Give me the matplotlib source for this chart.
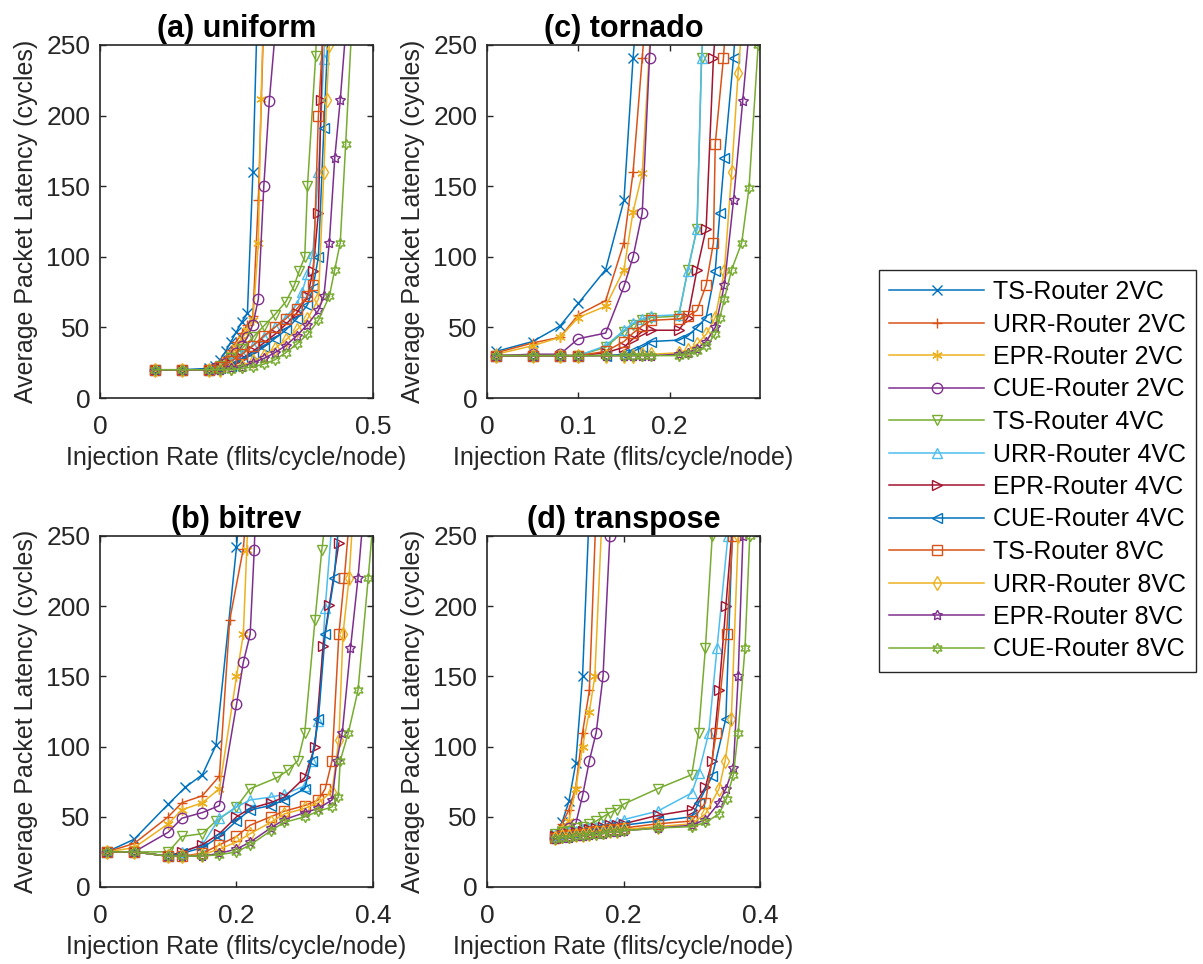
import numpy as np
import matplotlib
matplotlib.use("Agg")
from matplotlib import pyplot as plt

plt.rcParams['font.family'] = ['Liberation Sans', 'DejaVu Sans']

labels = ['TS-Router 2VC', 'URR-Router 2VC', 'EPR-Router 2VC', 'CUE-Router 2VC',
          'TS-Router 4VC', 'URR-Router 4VC', 'EPR-Router 4VC', 'CUE-Router 4VC',
          'TS-Router 8VC', 'URR-Router 8VC', 'EPR-Router 8VC', 'CUE-Router 8VC']

# ---- (a) uniform ----
uniform_x = [
    [0.10, 0.15, 0.20, 0.21, 0.22, 0.23, 0.24, 0.25, 0.26, 0.27, 0.28, 0.29],
    [0.10, 0.15, 0.20, 0.21, 0.22, 0.23, 0.24, 0.25, 0.26, 0.27, 0.28, 0.29, 0.30],
    [0.10, 0.15, 0.20, 0.21, 0.22, 0.23, 0.24, 0.25, 0.26, 0.27, 0.28, 0.29, 0.295, 0.30],
    [0.10, 0.15, 0.20, 0.21, 0.22, 0.23, 0.24, 0.25, 0.26, 0.27, 0.28, 0.29, 0.30, 0.31, 0.32],
    [0.10, 0.15, 0.20, 0.22, 0.24, 0.26, 0.28, 0.30, 0.32, 0.34, 0.355, 0.365, 0.375, 0.38, 0.395, 0.40],
    [0.10, 0.15, 0.20, 0.22, 0.24, 0.26, 0.28, 0.30, 0.32, 0.34, 0.36, 0.37, 0.38, 0.39, 0.40, 0.41, 0.415],
    [0.10, 0.15, 0.20, 0.22, 0.24, 0.26, 0.28, 0.30, 0.32, 0.34, 0.36, 0.38, 0.39, 0.40, 0.405, 0.41],
    [0.10, 0.15, 0.20, 0.22, 0.24, 0.26, 0.28, 0.30, 0.32, 0.34, 0.36, 0.38, 0.39, 0.40, 0.41, 0.42],
    [0.10, 0.15, 0.20, 0.22, 0.24, 0.26, 0.28, 0.30, 0.32, 0.34, 0.36, 0.38, 0.39, 0.40, 0.41],
    [0.10, 0.15, 0.20, 0.22, 0.24, 0.26, 0.28, 0.30, 0.32, 0.34, 0.36, 0.38, 0.40, 0.41, 0.415, 0.42, 0.43],
    [0.10, 0.15, 0.20, 0.22, 0.24, 0.26, 0.28, 0.30, 0.32, 0.34, 0.36, 0.38, 0.40, 0.41, 0.42, 0.43, 0.44, 0.45],
    [0.10, 0.15, 0.20, 0.22, 0.24, 0.26, 0.28, 0.30, 0.32, 0.34, 0.36, 0.38, 0.40, 0.42, 0.43, 0.44, 0.45, 0.46],
]
uniform_y = [
    [20, 20, 21, 23, 27, 33, 40, 47, 54, 60, 160, 300],
    [20, 20, 20, 22, 25, 29, 34, 40, 46, 52, 58, 140, 270],
    [20, 20, 20, 21, 23, 27, 31, 36, 42, 48, 55, 110, 212, 280],
    [20, 20, 20, 21, 22, 25, 28, 32, 37, 43, 52, 70, 150, 210, 255],
    [20, 20, 20, 23, 28, 35, 43, 51, 59, 68, 79, 90, 100, 150, 242, 300],
    [20, 20, 20, 22, 26, 31, 37, 43, 50, 57, 66, 75, 88, 103, 160, 240, 290],
    [20, 20, 20, 21, 24, 28, 33, 39, 45, 52, 60, 72, 90, 131, 211, 290],
    [20, 20, 20, 21, 23, 27, 31, 36, 42, 48, 56, 66, 78, 100, 191, 280],
    [20, 20, 20, 22, 26, 31, 37, 44, 50, 56, 63, 72, 80, 200, 270],
    [20, 20, 20, 20, 21, 23, 26, 30, 35, 41, 48, 56, 70, 160, 211, 250, 290],
    [20, 20, 20, 20, 21, 22, 25, 28, 32, 37, 44, 52, 62, 72, 110, 170, 211, 260],
    [20, 20, 20, 20, 20, 21, 22, 24, 27, 32, 38, 45, 55, 72, 91, 110, 180, 255],
]

# ---- (b) bitrev ----
bitrev_x = [
    [0.01, 0.05, 0.10, 0.125, 0.15, 0.17, 0.20, 0.21],
    [0.01, 0.05, 0.10, 0.12, 0.15, 0.175, 0.19, 0.21, 0.22],
    [0.01, 0.05, 0.10, 0.12, 0.15, 0.175, 0.20, 0.21, 0.215, 0.22],
    [0.01, 0.05, 0.10, 0.12, 0.15, 0.175, 0.20, 0.21, 0.22, 0.226, 0.23],
    [0.01, 0.05, 0.10, 0.12, 0.15, 0.17, 0.20, 0.22, 0.26, 0.275, 0.29, 0.30, 0.315, 0.325, 0.33],
    [0.01, 0.05, 0.10, 0.12, 0.15, 0.175, 0.20, 0.22, 0.25, 0.27, 0.30, 0.31, 0.32, 0.33, 0.34],
    [0.01, 0.05, 0.10, 0.12, 0.15, 0.175, 0.20, 0.22, 0.25, 0.27, 0.30, 0.315, 0.327, 0.336, 0.35],
    [0.01, 0.05, 0.10, 0.12, 0.15, 0.175, 0.20, 0.22, 0.25, 0.27, 0.30, 0.31, 0.32, 0.33, 0.343, 0.35],
    [0.01, 0.05, 0.10, 0.12, 0.15, 0.175, 0.20, 0.22, 0.25, 0.27, 0.30, 0.32, 0.33, 0.34, 0.35, 0.358, 0.365],
    [0.01, 0.05, 0.10, 0.12, 0.15, 0.175, 0.20, 0.22, 0.25, 0.27, 0.30, 0.32, 0.34, 0.35, 0.356, 0.365, 0.37],
    [0.01, 0.05, 0.10, 0.12, 0.15, 0.175, 0.20, 0.22, 0.25, 0.27, 0.30, 0.32, 0.34, 0.347, 0.355, 0.367, 0.378, 0.385],
    [0.01, 0.05, 0.10, 0.12, 0.15, 0.175, 0.20, 0.22, 0.25, 0.27, 0.30, 0.32, 0.34, 0.349, 0.352, 0.364, 0.378, 0.393, 0.40],
]
bitrev_y = [
    [25, 34, 59, 71, 80, 101, 242, 300],
    [25, 31, 50, 60, 65, 79, 190, 241, 300],
    [25, 28, 45, 55, 60, 70, 150, 180, 240, 300],
    [25, 25, 39, 49, 53, 58, 130, 160, 180, 240, 300],
    [25, 25, 25, 36, 38, 47, 57, 70, 78, 83, 90, 110, 190, 240, 260],
    [25, 25, 22, 25, 30, 49, 57, 62, 64, 66, 72, 90, 118, 199, 260],
    [25, 25, 22, 25, 30, 38, 50, 56, 60, 64, 78, 100, 172, 201, 245],
    [25, 25, 22, 24, 28, 36, 47, 55, 58, 62, 70, 90, 120, 180, 220, 260],
    [25, 25, 22, 22, 24, 30, 36, 44, 50, 54, 58, 62, 70, 90, 180, 220, 260],
    [25, 25, 22, 22, 23, 27, 32, 38, 46, 52, 56, 60, 68, 105, 180, 220, 260],
    [25, 25, 22, 22, 22, 24, 27, 32, 42, 48, 53, 56, 62, 90, 110, 170, 220, 260],
    [25, 25, 22, 22, 22, 23, 25, 30, 40, 46, 50, 54, 57, 64, 90, 110, 140, 220, 260],
]

# ---- (c) tornado ----
tornado_x = [
    [0.01, 0.05, 0.08, 0.10, 0.13, 0.15, 0.16, 0.17],
    [0.01, 0.05, 0.08, 0.10, 0.13, 0.15, 0.16, 0.17, 0.18],
    [0.01, 0.05, 0.08, 0.10, 0.13, 0.15, 0.16, 0.17, 0.18],
    [0.01, 0.05, 0.08, 0.10, 0.13, 0.15, 0.16, 0.17, 0.178, 0.185],
    [0.01, 0.05, 0.08, 0.10, 0.13, 0.15, 0.16, 0.17, 0.18, 0.21, 0.22, 0.23, 0.235, 0.24],
    [0.01, 0.05, 0.08, 0.10, 0.13, 0.15, 0.16, 0.17, 0.18, 0.21, 0.22, 0.23, 0.235, 0.24],
    [0.01, 0.05, 0.08, 0.10, 0.13, 0.15, 0.16, 0.17, 0.18, 0.21, 0.22, 0.23, 0.24, 0.248, 0.255],
    [0.01, 0.05, 0.08, 0.10, 0.13, 0.15, 0.16, 0.17, 0.18, 0.21, 0.22, 0.23, 0.24, 0.25, 0.255, 0.26, 0.27, 0.275],
    [0.01, 0.05, 0.08, 0.10, 0.13, 0.15, 0.16, 0.17, 0.18, 0.21, 0.22, 0.23, 0.24, 0.248, 0.25, 0.259, 0.265],
    [0.01, 0.05, 0.08, 0.10, 0.13, 0.15, 0.16, 0.17, 0.18, 0.21, 0.22, 0.23, 0.24, 0.25, 0.26, 0.268, 0.275, 0.28],
    [0.01, 0.05, 0.08, 0.10, 0.13, 0.15, 0.16, 0.17, 0.18, 0.21, 0.22, 0.23, 0.24, 0.25, 0.26, 0.27, 0.28, 0.29],
    [0.01, 0.05, 0.08, 0.10, 0.13, 0.15, 0.16, 0.17, 0.18, 0.21, 0.22, 0.23, 0.24, 0.25, 0.255, 0.26, 0.268, 0.279, 0.287, 0.297],
]
tornado_y = [
    [33, 40, 51, 67, 91, 140, 241, 320],
    [32, 39, 43, 59, 69, 110, 160, 241, 320],
    [31, 37, 43, 57, 65, 91, 132, 159, 270],
    [30, 31, 31, 42, 46, 79, 100, 131, 241, 320],
    [30, 30, 30, 30, 36, 47, 52, 55, 57, 58, 91, 120, 241, 300],
    [30, 30, 30, 30, 37, 48, 53, 56, 58, 59, 90, 120, 241, 300],
    [30, 30, 30, 30, 32, 36, 42, 47, 48, 48, 57, 91, 120, 241, 300],
    [30, 30, 30, 30, 30, 31, 33, 36, 40, 41, 44, 50, 57, 90, 131, 170, 241, 290],
    [30, 30, 30, 30, 33, 40, 46, 51, 55, 56, 58, 62, 80, 110, 180, 241, 300],
    [30, 30, 30, 30, 30, 30, 30, 31, 31, 32, 34, 38, 45, 57, 90, 160, 230, 270],
    [30, 30, 30, 30, 30, 30, 30, 30, 30, 31, 32, 35, 40, 50, 80, 140, 210, 280],
    [30, 30, 30, 30, 30, 30, 30, 30, 30, 30, 31, 33, 37, 45, 57, 70, 91, 110, 149, 250],
]

# ---- (d) transpose ----
tr_lo = [0.10, 0.11, 0.12, 0.13, 0.14, 0.15, 0.16, 0.17, 0.18, 0.19, 0.20]
transpose_x = [
    [0.10, 0.11, 0.12, 0.13, 0.14, 0.15],
    [0.10, 0.11, 0.12, 0.13, 0.14, 0.15, 0.16],
    [0.10, 0.11, 0.12, 0.13, 0.14, 0.15, 0.158, 0.17],
    [0.10, 0.11, 0.12, 0.13, 0.14, 0.15, 0.16, 0.17, 0.18],
    tr_lo + [0.25, 0.30, 0.31, 0.32, 0.33],
    tr_lo + [0.25, 0.30, 0.31, 0.325, 0.337, 0.353],
    tr_lo + [0.25, 0.30, 0.32, 0.33, 0.34, 0.35, 0.36],
    tr_lo + [0.25, 0.30, 0.31, 0.33, 0.35, 0.36],
    tr_lo + [0.25, 0.30, 0.32, 0.336, 0.351, 0.36],
    tr_lo + [0.25, 0.30, 0.32, 0.34, 0.349, 0.358, 0.368],
    tr_lo + [0.25, 0.30, 0.32, 0.34, 0.35, 0.361, 0.368, 0.375],
    tr_lo + [0.25, 0.30, 0.32, 0.34, 0.351, 0.361, 0.368, 0.378, 0.385],
]
transpose_y = [
    [38, 46, 61, 88, 150, 270],
    [37, 45, 55, 71, 110, 140, 270],
    [36, 42, 47, 70, 100, 125, 150, 280],
    [35, 38, 42, 45, 65, 90, 110, 150, 250],
    [38, 39, 40, 42, 43, 45, 47, 50, 53, 55, 59, 70, 80, 110, 170, 250],
    [37, 38, 39, 40, 41, 42, 43, 44, 45, 46, 48, 54, 67, 81, 110, 170, 250],
    [36, 37, 38, 39, 40, 41, 42, 43, 44, 44, 45, 51, 55, 71, 90, 140, 200, 260],
    [36, 37, 37, 38, 39, 40, 41, 42, 43, 43, 44, 47, 50, 60, 79, 120, 260],
    [35, 36, 37, 37, 38, 39, 40, 40, 41, 41, 42, 45, 47, 60, 110, 180, 250],
    [35, 36, 36, 37, 37, 38, 39, 39, 40, 40, 41, 43, 45, 52, 70, 90, 120, 250],
    [34, 35, 35, 36, 36, 37, 38, 38, 39, 39, 40, 42, 44, 48, 60, 70, 85, 150, 250],
    [34, 35, 35, 36, 36, 37, 37, 38, 39, 39, 40, 42, 43, 46, 52, 63, 80, 110, 170, 250],
]

colors = ['#0072BD', '#D95319', '#EDB120', '#7E2F8E', '#77AC30', '#4DBEEE', '#A2142F',
          '#0072BD', '#D95319', '#EDB120', '#7E2F8E', '#77AC30']
markers = ['x', '+', (6, 2, 0), 'o', 'v', '^', '>', '<', 's', 'd', (5, 1, 0), (6, 1, 0)]

fig = plt.figure(figsize=(12.03, 9.64), dpi=100)
W, H = 1203.0, 964.0

def make_axes(left, top, right, bottom):
    return fig.add_axes([left / W, 1 - bottom / H, (right - left) / W, (bottom - top) / H])

panels = [
    (make_axes(100, 45, 373, 398), '(a) uniform', uniform_x, uniform_y, (0, 0.5), [0, 0.5], ['0', '0.5']),
    (make_axes(487, 45, 760, 398), '(c) tornado', tornado_x, tornado_y, (0, 0.299), [0, 0.1, 0.2], ['0', '0.1', '0.2']),
    (make_axes(100, 536, 373, 887), '(b) bitrev', bitrev_x, bitrev_y, (0, 0.4), [0, 0.2, 0.4], ['0', '0.2', '0.4']),
    (make_axes(487, 536, 760, 887), '(d) transpose', transpose_x, transpose_y, (0, 0.4), [0, 0.2, 0.4], ['0', '0.2', '0.4']),
]

handles = []
for ax, title, xs, ys, xlim, xt, xtl in panels:
    for i in range(12):
        ln, = ax.plot(xs[i], ys[i], color=colors[i], marker=markers[i], markersize=7.5,
                      markerfacecolor='none', markeredgewidth=1.0, linewidth=1.1)
        if len(handles) < 12:
            handles.append(ln)
    ax.set_xlim(*xlim)
    ax.set_ylim(0, 250)
    ax.set_xticks(xt)
    ax.set_xticklabels(xtl)
    ax.set_yticks([0, 50, 100, 150, 200, 250])
    ax.tick_params(direction='in', length=4, width=1.0, top=True, right=True,
                   labelsize=19, colors='#262626')
    ax.tick_params(axis='x', pad=12)
    ax.tick_params(axis='y', pad=7)
    for sp in ax.spines.values():
        sp.set_color('#262626')
        sp.set_linewidth(1.2)
    ax.set_title(title, fontsize=22, fontweight='bold', pad=6)
    ax.set_xlabel('Injection Rate (flits/cycle/node)', fontsize=18, color='#262626', labelpad=5)
    ax.set_ylabel('Average Packet Latency (cycles)', fontsize=18, color='#262626', labelpad=6)

leg = fig.legend(handles, labels, loc='upper left', bbox_to_anchor=(879 / W, 1 - 270 / H),
                 borderaxespad=0, fontsize=18, handlelength=3.8, labelspacing=0.34,
                 borderpad=0.4, handletextpad=0.35, fancybox=False, framealpha=1,
                 edgecolor='#262626')
leg.get_frame().set_linewidth(1.0)

fig.savefig('out.png', dpi=100)
